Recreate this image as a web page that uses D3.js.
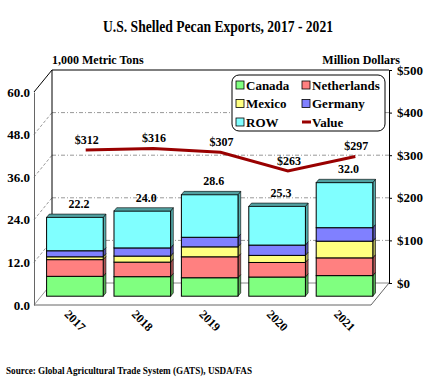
<!DOCTYPE html>
<html>
<head>
<meta charset="utf-8">
<script src="https://cdn.jsdelivr.net/npm/d3@7"></script>
<style>
  body { margin: 0; background: #fff; }
  text { font-family: "Liberation Serif", "Times New Roman", serif; font-weight: bold; }
</style>
</head>
<body>
<div id="chart"></div>
<script>
// values (1,000 metric tons / million dollars)
const years = ["2017", "2018", "2019", "2020", "2021"];
const canada = [5.6, 5.5, 5.2, 5.4, 5.8];
const netherlands = [4.7, 4.1, 5.9, 4.1, 5.0];
const mexico = [0.8, 1.7, 2.8, 2.0, 4.7];
const germany = [1.7, 2.3, 2.7, 2.9, 3.8];
const rowOther = [9.4, 10.4, 12.0, 10.9, 12.7];
const totals = [22.2, 24.0, 28.6, 25.3, 32.0];
const value = [312, 316, 307, 263, 297];
const leftTicks = [0, 12, 24, 36, 48, 60];
const rightTicks = [0, 100, 200, 300, 400, 500];

const keys = ["Canada", "Netherlands", "Mexico", "Germany", "ROW"];
const colors = {
    Canada: "#80FF80", Netherlands: "#FF8080", Mexico: "#FFFF80",
    Germany: "#8080FF", ROW: "#80FFFF"
};

const table = years.map((y, i) => ({
    year: y, Canada: canada[i], Netherlands: netherlands[i], Mexico: mexico[i],
    Germany: germany[i], ROW: rowOther[i]
}));

const svg = d3.select('#chart').append('svg')
    .attr('width', 428)
    .attr('height', 380);

// front plane scales, depth vector goes to the back wall
const depth = { dx: 18, dy: -22 };
const x = d3.scaleBand().domain(years).range([34, 371]);
const yL = d3.scaleLinear().domain([0, 60]).range([305, 92]);
const yR = d3.scaleLinear().domain([0, 500]).range([305 + depth.dy, 92 + depth.dy]);

function proj(px, py, z) {
    return [px + depth.dx * z, py + depth.dy * z];
}

// title
svg.append('text')
    .attr('x', 103).attr('y', 32)
    .attr('font-size', 17)
    .attr('textLength', 230).attr('lengthAdjust', 'spacingAndGlyphs')
    .text('U.S. Shelled Pecan Exports, 2017 - 2021');

svg.append('text').attr('x', 52).attr('y', 64).attr('font-size', 12)
    .text('1,000 Metric Tons');
svg.append('text').attr('x', 400).attr('y', 64).attr('font-size', 12)
    .attr('text-anchor', 'end').text('Million Dollars');

// back wall + gridlines
const x0 = 34, x1 = 371;
const wall = svg.append('g');
leftTicks.forEach(t => {
    const a = [x0, yL(t)];
    const b = proj(x0, yL(t), 1);
    const c = proj(x1, yL(t), 1);
    const solid = t === 60;
    wall.append('line')
        .attr('x1', a[0]).attr('y1', a[1]).attr('x2', b[0]).attr('y2', b[1])
        .attr('stroke', solid ? '#000' : '#999')
        .attr('stroke-dasharray', solid || t === 0 ? null : '3,2');
    if (t > 0) {
        wall.append('line')
            .attr('x1', b[0]).attr('y1', b[1]).attr('x2', c[0]).attr('y2', c[1])
            .attr('stroke', solid ? '#000' : '#999')
            .attr('stroke-width', solid ? 1.2 : 1)
            .attr('stroke-dasharray', solid ? null : '4,2,1,2');
    }
});
// back floor edge
wall.append('line')
    .attr('x1', proj(x0, yL(0), 1)[0]).attr('y1', proj(x0, yL(0), 1)[1])
    .attr('x2', proj(x1, yL(0), 1)[0]).attr('y2', proj(x1, yL(0), 1)[1])
    .attr('stroke', '#888');
// left wall edge
wall.append('line')
    .attr('x1', proj(x0, yL(0), 1)[0]).attr('y1', proj(x0, yL(0), 1)[1])
    .attr('x2', proj(x0, yL(60), 1)[0]).attr('y2', proj(x0, yL(60), 1)[1])
    .attr('stroke', '#000');
// floor front and right edges
wall.append('line')
    .attr('x1', x0).attr('y1', yL(0)).attr('x2', x1).attr('y2', yL(0))
    .attr('stroke', '#666');
wall.append('line')
    .attr('x1', x1).attr('y1', yL(0))
    .attr('x2', proj(x1, yL(0), 1)[0]).attr('y2', proj(x1, yL(0), 1)[1])
    .attr('stroke', '#666');

// left axis
svg.append('g')
    .attr('transform', `translate(${x0},0)`)
    .call(d3.axisLeft(yL).tickValues(leftTicks).tickSize(0).tickPadding(4)
        .tickFormat(d3.format('.1f')))
    .call(g => g.select('.domain').attr('stroke', '#666'))
    .selectAll('text').attr('font-size', 13).attr('font-family', null);

// right axis on the back wall
svg.append('g')
    .attr('transform', `translate(${x1 + depth.dx},0)`)
    .call(d3.axisRight(yR).tickValues(rightTicks).tickSize(3).tickPadding(5)
        .tickFormat(d => '$' + d))
    .call(g => g.select('.domain').attr('stroke', '#000'))
    .selectAll('text').attr('font-size', 13).attr('font-family', null);

// year labels
svg.append('g').selectAll('text')
    .data(years).enter().append('text')
    .attr('font-size', 12)
    .attr('transform', d => `translate(${x(d) + x.bandwidth() / 2 - 4},${yL(0) + 10}) rotate(45)`)
    .text(d => d);

// stacked 3D bars
const stack = d3.stack().keys(keys)(table);
const zFront = 0.4, zBack = 0.55;
const barW = x.bandwidth() * 0.84;
const bars = svg.append('g');

stack.forEach((layer, li) => {
    const key = layer.key;
    const col = d3.color(colors[key]);
    layer.forEach((seg, i) => {
        const cx = x(years[i]) + x.bandwidth() / 2;
        const l = cx - barW / 2, r = cx + barW / 2;
        const fTop = proj(l, yL(seg[1]), zFront);
        const fBot = proj(l, yL(seg[0]), zFront);
        const xl = fTop[0], xr = fTop[0] + barW;
        const ddx = depth.dx * (zBack - zFront), ddy = depth.dy * (zBack - zFront);
        // side face
        bars.append('polygon')
            .attr('points', [[xr, fTop[1]], [xr + ddx, fTop[1] + ddy], [xr + ddx, fBot[1] + ddy], [xr, fBot[1]]].join(' '))
            .attr('fill', col.darker(1.1))
            .attr('stroke', '#000').attr('stroke-width', 0.6);
        // front face
        bars.append('rect')
            .attr('x', xl).attr('y', fTop[1])
            .attr('width', barW).attr('height', fBot[1] - fTop[1])
            .attr('fill', colors[key])
            .attr('stroke', '#000').attr('stroke-width', 1);
        if (li === keys.length - 1) {
            bars.append('polygon')
                .attr('points', [[xl, fTop[1]], [xl + ddx, fTop[1] + ddy], [xr + ddx, fTop[1] + ddy], [xr, fTop[1]]].join(' '))
                .attr('fill', col.darker(1.3))
                .attr('stroke', '#000').attr('stroke-width', 0.6);
        }
    });
});

// totals above bars
svg.append('g').selectAll('text')
    .data(totals).enter().append('text')
    .attr('font-size', 12).attr('text-anchor', 'middle')
    .attr('x', (d, i) => proj(x(years[i]) + x.bandwidth() / 2, 0, zFront)[0] + 4)
    .attr('y', (d, i) => proj(0, yL(d), zFront)[1] - 9.5)
    .text(d => d.toFixed(1));

// value line on the back wall
const pts = value.map((v, i) => [x(years[i]) + x.bandwidth() / 2 + depth.dx, yR(v)]);
svg.append('path')
    .attr('d', d3.line()(pts))
    .attr('fill', 'none')
    .attr('stroke', '#990000')
    .attr('stroke-width', 3);

svg.append('g').selectAll('text')
    .data(value).enter().append('text')
    .attr('font-size', 12).attr('text-anchor', 'middle')
    .attr('x', (d, i) => pts[i][0] + 1)
    .attr('y', (d, i) => pts[i][1] - 6)
    .text(d => '$' + d);

// legend
const legend = svg.append('g').attr('transform', 'translate(232,75)');
legend.append('rect')
    .attr('width', 153).attr('height', 56)
    .attr('rx', 7).attr('ry', 7)
    .attr('fill', '#fff').attr('stroke', '#000').attr('stroke-width', 1);

const legendItems = [
    { name: 'Canada', col: 0, row: 0 },
    { name: 'Netherlands', col: 1, row: 0 },
    { name: 'Mexico', col: 0, row: 1 },
    { name: 'Germany', col: 1, row: 1 },
    { name: 'ROW', col: 0, row: 2 },
    { name: 'Value', col: 1, row: 2 }
];
legendItems.forEach(it => {
    const lx = 4 + it.col * 66, ly = 10 + it.row * 18.5;
    if (it.name === 'Value') {
        legend.append('line')
            .attr('x1', lx).attr('x2', lx + 9).attr('y1', ly).attr('y2', ly)
            .attr('stroke', '#990000').attr('stroke-width', 3);
    } else {
        legend.append('rect')
            .attr('x', lx).attr('y', ly - 4).attr('width', 8).attr('height', 8)
            .attr('fill', colors[it.name]).attr('stroke', '#000').attr('stroke-width', 0.8);
    }
    legend.append('text')
        .attr('x', lx + 10).attr('y', ly + 4.5)
        .attr('font-size', 13)
        .text(it.name);
});

// source note
svg.append('text')
    .attr('x', 6).attr('y', 374)
    .attr('font-size', 10.5)
    .attr('textLength', 246).attr('lengthAdjust', 'spacingAndGlyphs')
    .text('Source: Global Agricultural Trade System (GATS), USDA/FAS');
</script>
</body>
</html>
